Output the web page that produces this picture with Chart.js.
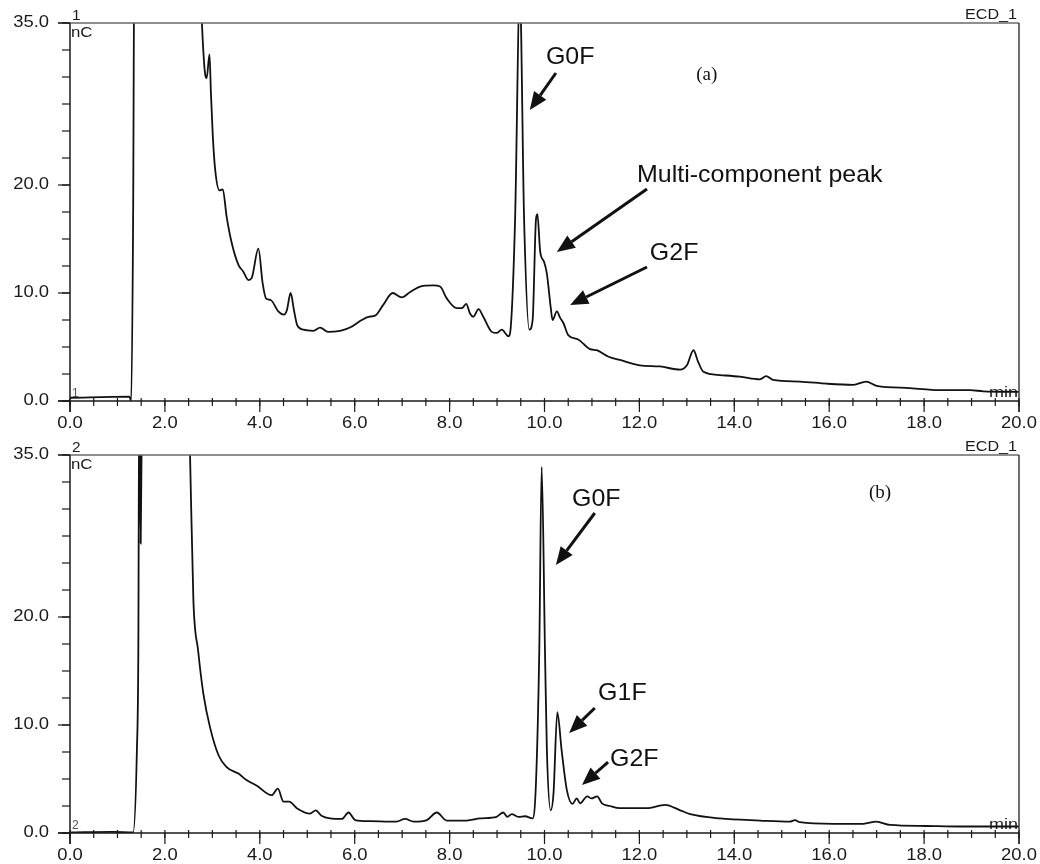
<!DOCTYPE html>
<html>
<head>
<meta charset="utf-8">
<title>Chromatograms (a) and (b)</title>
<script src="https://cdn.jsdelivr.net/npm/chart.js@4.4.1/dist/chart.umd.min.js"></script>
<style>
  html, body { margin: 0; padding: 0; background: #fff; }
  .panel { position: absolute; left: 0; width: 1040px; height: 432px; }
  #panelA { top: 0; }
  #panelB { top: 432px; }
</style>
</head>
<body>
<div class="panel" id="panelA"><canvas id="chartA" width="1040" height="432"></canvas></div>
<div class="panel" id="panelB"><canvas id="chartB" width="1040" height="432"></canvas></div>
<script>
/* ===== DATA (retention time in min, signal in nC) ===== */
const timeA = [0, 1.25, 1.29, 1.33, 1.36, 2.70, 2.78, 2.85, 2.88, 2.94, 2.97, 3.01, 3.06, 3.15, 3.22,
  3.30, 3.41, 3.55, 3.65, 3.76, 3.83, 3.97, 4.06, 4.13, 4.23, 4.39, 4.51, 4.57, 4.65, 4.72, 4.79,
  4.92, 5.13, 5.27, 5.44, 5.69, 5.90, 6.15, 6.29, 6.43, 6.60, 6.80, 6.99, 7.17, 7.38, 7.66, 7.80,
  7.94, 8.15, 8.26, 8.35, 8.43, 8.50, 8.61, 8.71, 8.89, 8.99, 9.10, 9.24, 9.29, 9.38, 9.48, 9.57,
  9.68, 9.75, 9.82, 9.85, 9.91, 9.99, 10.05, 10.13, 10.17, 10.26, 10.33, 10.40, 10.50, 10.71, 10.96,
  11.10, 11.35, 11.59, 12.01, 12.43, 12.86, 13.00, 13.14, 13.24, 13.35, 13.70, 14.12, 14.54, 14.67,
  14.82, 15.38, 15.95, 16.51, 16.78, 17.00, 17.70, 18.40, 18.97, 19.25, 20.0];
const signalA = [0.3, 0.4, 0.0, 16.8, 45, 45, 35, 30.2, 29.9, 32.1, 28.5, 24.5, 21.4, 19.5, 19.6,
  17.1, 14.6, 12.6, 12.0, 11.2, 11.4, 14.1, 10.9, 9.5, 9.35, 8.3, 8.0, 8.4, 10.0, 8.4, 7.0,
  6.6, 6.5, 6.8, 6.4, 6.5, 6.8, 7.5, 7.8, 7.9, 8.9, 10.0, 9.6, 10.1, 10.6, 10.7, 10.6,
  9.5, 8.6, 8.6, 9.0, 8.1, 7.8, 8.5, 7.8, 6.4, 6.3, 6.6, 6.0, 6.9, 16.8, 38, 16.8,
  6.6, 7.5, 16.8, 17.3, 13.8, 12.9, 11.8, 8.7, 7.5, 8.3, 7.7, 7.2, 6.1, 5.7, 4.8,
  4.7, 4.1, 3.8, 3.3, 3.2, 2.9, 3.3, 4.7, 3.6, 2.7, 2.4, 2.25, 2.0, 2.3,
  1.95, 1.8, 1.6, 1.5, 1.8, 1.4, 1.2, 1.0, 1.0, 0.9, 0.85];

const timeB = [0, 0.9, 1.33, 1.41, 1.44, 1.46, 1.49, 1.52, 1.60, 2.40, 2.53, 2.60, 2.70, 2.81, 2.95,
  3.13, 3.30, 3.55, 3.72, 3.93, 4.25, 4.38, 4.50, 4.62, 4.78, 5.06, 5.18, 5.30, 5.48, 5.73, 5.87,
  6.01, 6.32, 6.88, 7.06, 7.24, 7.52, 7.73, 7.94, 8.36, 8.64, 8.99, 9.13, 9.22, 9.31, 9.45, 9.59,
  9.75, 9.82, 9.89, 9.94, 10.01, 10.05, 10.13, 10.19, 10.27, 10.36, 10.47, 10.59, 10.68, 10.75,
  10.90, 10.99, 11.11, 11.21, 11.38, 11.59, 12.15, 12.54, 12.86, 13.07, 13.70, 14.54, 15.17, 15.28,
  15.38, 16.09, 16.72, 16.99, 17.28, 18.05, 18.76, 20.0];
const signalB = [0.05, 0.1, 0.05, 7.7, 16.9, 42, 26.8, 42, 60, 60, 35, 21.6, 16.9, 12.9, 9.8,
  7.2, 6.1, 5.5, 4.9, 4.4, 3.5, 4.1, 2.9, 2.9, 2.3, 1.8, 2.1, 1.6, 1.35, 1.3, 1.9,
  1.2, 1.1, 1.05, 1.3, 1.05, 1.2, 1.9, 1.15, 1.15, 1.35, 1.5, 1.9, 1.5, 1.75, 1.5, 1.55,
  1.35, 4.6, 16.9, 33.9, 16.9, 7.7, 2.1, 3.7, 11.2, 7.7, 4.0, 2.7, 3.2, 2.75,
  3.4, 3.2, 3.4, 2.75, 2.5, 2.3, 2.3, 2.6, 2.1, 1.75, 1.35, 1.15, 1.05, 1.2,
  1.0, 0.85, 0.85, 1.05, 0.75, 0.65, 0.6, 0.6];

const xTickLabels = ["0.0", "2.0", "4.0", "6.0", "8.0", "10.0", "12.0", "14.0", "16.0", "18.0", "20.0"];
const yTickLabels = ["0.0", "10.0", "20.0", "35.0"];
const xMinorStep = 0.5;
const yMinorStep = 2.5;

/* ===== ANNOTATIONS (placed in data units) ===== */
const notesA = [
  { text: "G0F", t: 10.03, v: 31.8 },
  { text: "Multi-component peak", t: 11.95, v: 20.9 },
  { text: "G2F", t: 12.22, v: 13.7 }
];
const arrowsA = [[10.24, 30.37, 9.69, 26.94], [12.16, 19.63, 10.26, 13.80], [12.16, 12.41, 10.54, 8.89]];
const notesB = [
  { text: "G0F", t: 10.58, v: 30.9 },
  { text: "G1F", t: 11.13, v: 12.9 },
  { text: "G2F", t: 11.38, v: 6.85 }
];
const arrowsB = [[11.06, 29.63, 10.24, 24.81], [11.06, 11.57, 10.52, 9.26], [11.34, 6.57, 10.79, 4.44]];

/* ===== DRAW HELPERS ===== */
function seg(ctx, x1, y1, x2, y2) {
  ctx.beginPath();
  ctx.moveTo(x1, y1);
  ctx.lineTo(x2, y2);
  ctx.stroke();
}

function say(ctx, s, x, y, align, base, font, sx) {
  ctx.save();
  ctx.translate(x, y);
  ctx.scale(sx || 1, 1);
  ctx.font = font;
  ctx.textAlign = align;
  ctx.textBaseline = base;
  ctx.fillText(s, 0, 0);
  ctx.restore();
}

function arrow(ctx, x1, y1, x2, y2) {
  const a = Math.atan2(y2 - y1, x2 - x1), L = 18, W = 7.5;
  const bx = x2 - L * Math.cos(a), by = y2 - L * Math.sin(a);
  ctx.lineWidth = 3;
  seg(ctx, x1, y1, bx, by);
  ctx.beginPath();
  ctx.moveTo(x2, y2);
  ctx.lineTo(bx + W * Math.sin(a), by - W * Math.cos(a));
  ctx.lineTo(bx - W * Math.sin(a), by + W * Math.cos(a));
  ctx.closePath();
  ctx.fill();
}

/* ===== FRAME, TICKS, LABELS ===== */
const frame = {
  id: 'frame',
  afterDraw(chart, args, o) {
    const ctx = chart.ctx;
    const xs = chart.scales.x, ys = chart.scales.y;
    const { left, right, top, bottom } = chart.chartArea;
    const tickFont = '16px "Liberation Sans", Arial, sans-serif';
    ctx.save();
    ctx.fillStyle = '#1a1a1a';

    ctx.lineWidth = 1.5;
    ctx.strokeStyle = '#6a6a6a';
    seg(ctx, left - 12, top, right, top);
    ctx.strokeStyle = '#3c3c3c';
    seg(ctx, right, top, right, bottom + 11);
    ctx.strokeStyle = '#1a1a1a';
    seg(ctx, left, top, left, bottom + 11);
    seg(ctx, left - 12, bottom, right, bottom);

    // y axis
    ctx.lineWidth = 1.2;
    for (let v = 0; v <= ys.max; v += yMinorStep) {
      const py = ys.getPixelForValue(v);
      seg(ctx, left - 8, py, left, py);
    }
    yTickLabels.forEach(s => {
      const py = ys.getPixelForValue(parseFloat(s));
      seg(ctx, left - 12, py, left, py);
      say(ctx, s, left - 21, py, 'right', 'middle', tickFont, 1.15);
    });

    // x axis
    for (let m = 0; m <= xs.max; m += xMinorStep) {
      const px = xs.getPixelForValue(m);
      seg(ctx, px, bottom - 3, px, bottom + 5);
    }
    xTickLabels.forEach(s => {
      const px = xs.getPixelForValue(parseFloat(s));
      seg(ctx, px, bottom, px, bottom + 11);
      say(ctx, s, px, bottom + 27, 'center', 'alphabetic', tickFont, 1.15);
    });

    // corner texts
    const small = '14px "Liberation Sans", Arial, sans-serif';
    say(ctx, o.num, left + 2, top - 3, 'left', 'alphabetic', small, 1.1);
    say(ctx, 'nC', left + 1, top + 14, 'left', 'alphabetic', small, 1.2);
    say(ctx, 'ECD_1', right - 2, top - 4, 'right', 'alphabetic', small, 1.15);
    say(ctx, 'min', right - 1, bottom - 4, 'right', 'alphabetic', '15px "Liberation Sans", Arial, sans-serif', 1.2);
    ctx.fillStyle = '#555';
    say(ctx, o.num, left + 2, bottom - 4, 'left', 'alphabetic', '12px "Liberation Sans", Arial, sans-serif', 1);

    // annotations
    ctx.fillStyle = '#111';
    ctx.strokeStyle = '#111';
    o.notes.forEach(n => {
      say(ctx, n.text, xs.getPixelForValue(n.t), ys.getPixelForValue(n.v), 'left', 'middle',
        '24px "Liberation Sans", Arial, sans-serif', 1.04);
    });
    o.arrows.forEach(a => {
      arrow(ctx, xs.getPixelForValue(a[0]), ys.getPixelForValue(a[1]),
        xs.getPixelForValue(a[2]), ys.getPixelForValue(a[3]));
    });
    say(ctx, o.tag.text, xs.getPixelForValue(o.tag.t), ys.getPixelForValue(o.tag.v), 'center', 'middle',
      '19px "Liberation Serif", "Times New Roman", serif', 1);
    ctx.restore();
  }
};

function makeChart(id, times, signal, extra) {
  return new Chart(document.getElementById(id), {
    type: 'line',
    data: {
      datasets: [{
        data: times.map((t, i) => ({ x: t, y: signal[i] })),
        borderColor: '#111',
        borderWidth: 1.8,
        pointRadius: 0,
        cubicInterpolationMode: 'monotone',
        fill: false
      }]
    },
    options: {
      responsive: false,
      animation: false,
      layout: { padding: { left: 70, right: 21, top: 23, bottom: 31 } },
      scales: {
        x: { type: 'linear', min: 0, max: 20, display: false },
        y: { type: 'linear', min: 0, max: 35, display: false }
      },
      plugins: {
        legend: { display: false },
        tooltip: { enabled: false },
        frame: extra
      }
    },
    plugins: [frame]
  });
}

makeChart('chartA', timeA, signalA, { num: '1', notes: notesA, arrows: arrowsA, tag: { text: '(a)', t: 13.42, v: 30.2 } });
makeChart('chartB', timeB, signalB, { num: '2', notes: notesB, arrows: arrowsB, tag: { text: '(b)', t: 17.07, v: 31.5 } });
</script>
</body>
</html>
